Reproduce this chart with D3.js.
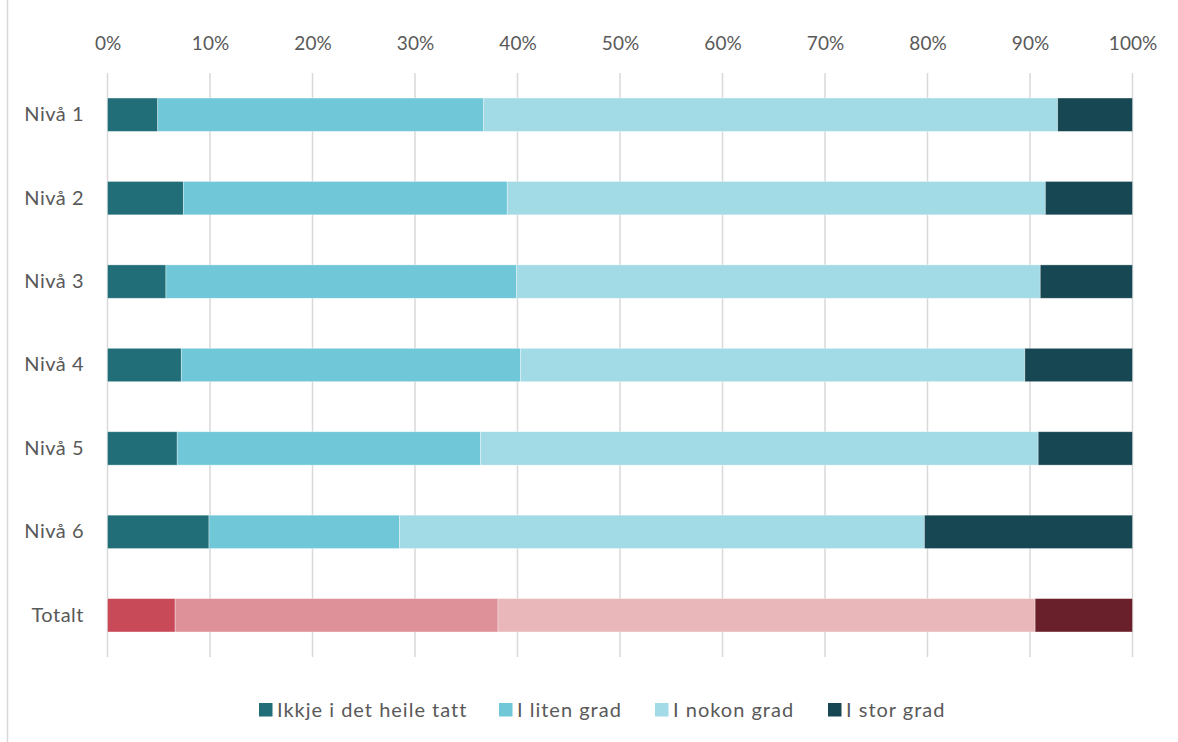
<!DOCTYPE html>
<html><head><meta charset="utf-8">
<script src="https://cdn.jsdelivr.net/npm/d3@7"></script>
<style>body{margin:0;background:#fff}svg{display:block}text{font-family:Lato,"Open Sans",sans-serif;fill:#595959}</style>
</head><body><svg id="c" width="1178" height="742"></svg>
<script>
const categories = ["Nivå 1","Nivå 2","Nivå 3","Nivå 4","Nivå 5","Nivå 6","Totalt"];
const seriesNames = ["Ikkje i det heile tatt","I liten grad","I nokon grad","I stor grad"];
const ikkje  = [4.9, 7.4, 5.7, 7.2, 6.8, 9.9, 6.6];
const liten  = [31.8, 31.6, 34.2, 33.1, 29.6, 18.6, 31.5];
const nokon  = [56.0, 52.5, 51.1, 49.2, 54.4, 51.2, 52.4];
const stor   = [7.3, 8.5, 9.0, 10.5, 9.2, 20.3, 9.5];
const tickValues = [0,10,20,30,40,50,60,70,80,90,100];
const colorsMain = ["#216e78","#70c7d8","#a2dae5","#174752"];
const colorsTotal = ["#c84a59","#de9198","#e9b6ba","#6a202a"];

const svg = d3.select("#c");
const m = {left:107.5, right:1132.5, top:73, bottom:657};
const x = d3.scaleLinear().domain([0,100]).range([m.left,m.right]);
const y = d3.scaleBand().domain(categories).range([m.top,m.bottom]).paddingInner(0.6).paddingOuter(0.3);

// outer border line
svg.append("line").attr("x1",7.5).attr("x2",7.5).attr("y1",0).attr("y2",742).attr("stroke","#d9d9d9").attr("stroke-width",1.5);

// gridlines
svg.append("g").selectAll("line").data(tickValues).join("line")
  .attr("x1",d=>x(d)).attr("x2",d=>x(d)).attr("y1",m.top).attr("y2",m.bottom)
  .attr("stroke","#d9d9d9").attr("stroke-width",1.5);

// top axis labels
const xAxis = d3.axisTop(x).tickValues(tickValues).tickFormat(d=>d+"%").tickSize(0).tickPadding(0);
const gx = svg.append("g").attr("transform",`translate(0,${50})`).call(xAxis);
gx.select(".domain").remove();
gx.selectAll("text").attr("font-size",19).style("font-family","Lato,'Open Sans',sans-serif").attr("fill","#595959");

// y axis labels
const yAxis = d3.axisLeft(y).tickSize(0).tickPadding(0);
const gy = svg.append("g").attr("transform",`translate(${84},0)`).call(yAxis);
gy.select(".domain").remove();
gy.selectAll("text").attr("font-size",20).attr("letter-spacing",0.5).style("font-family","Lato,'Open Sans',sans-serif").attr("fill","#595959");

// stacked bars
const rows = categories.map((c,i)=>({cat:c, vals:[ikkje[i],liten[i],nokon[i],stor[i]]}));
const segs = [];
rows.forEach((r,ri)=>{
  let acc=0;
  r.vals.forEach((v,si)=>{ segs.push({cat:r.cat, s:si, x0:acc, x1:acc+v, total:r.cat==="Totalt"}); acc+=v; });
});
svg.append("g").selectAll("rect").data(segs).join("rect")
  .attr("x",d=>x(d.x0)).attr("width",d=>x(Math.min(d.x1,100))-x(d.x0))
  .attr("y",d=>y(d.cat)).attr("height",y.bandwidth())
  .attr("fill",d=>(d.total?colorsTotal:colorsMain)[d.s])
  .attr("stroke","rgba(255,255,255,0.45)").attr("stroke-width",0.75);

// legend
const legendX = [259, 499, 655, 828];
const lg = svg.append("g");
seriesNames.forEach((n,i)=>{
  const g = lg.append("g").attr("transform",`translate(${legendX[i]},${703})`);
  g.append("rect").attr("width",13.5).attr("height",13.5).attr("fill",colorsMain[i]);
  g.append("text").attr("x",18).attr("y",6.5).attr("dy","0.35em").attr("font-size",20).attr("letter-spacing",1).text(n);
});
</script></body></html>
